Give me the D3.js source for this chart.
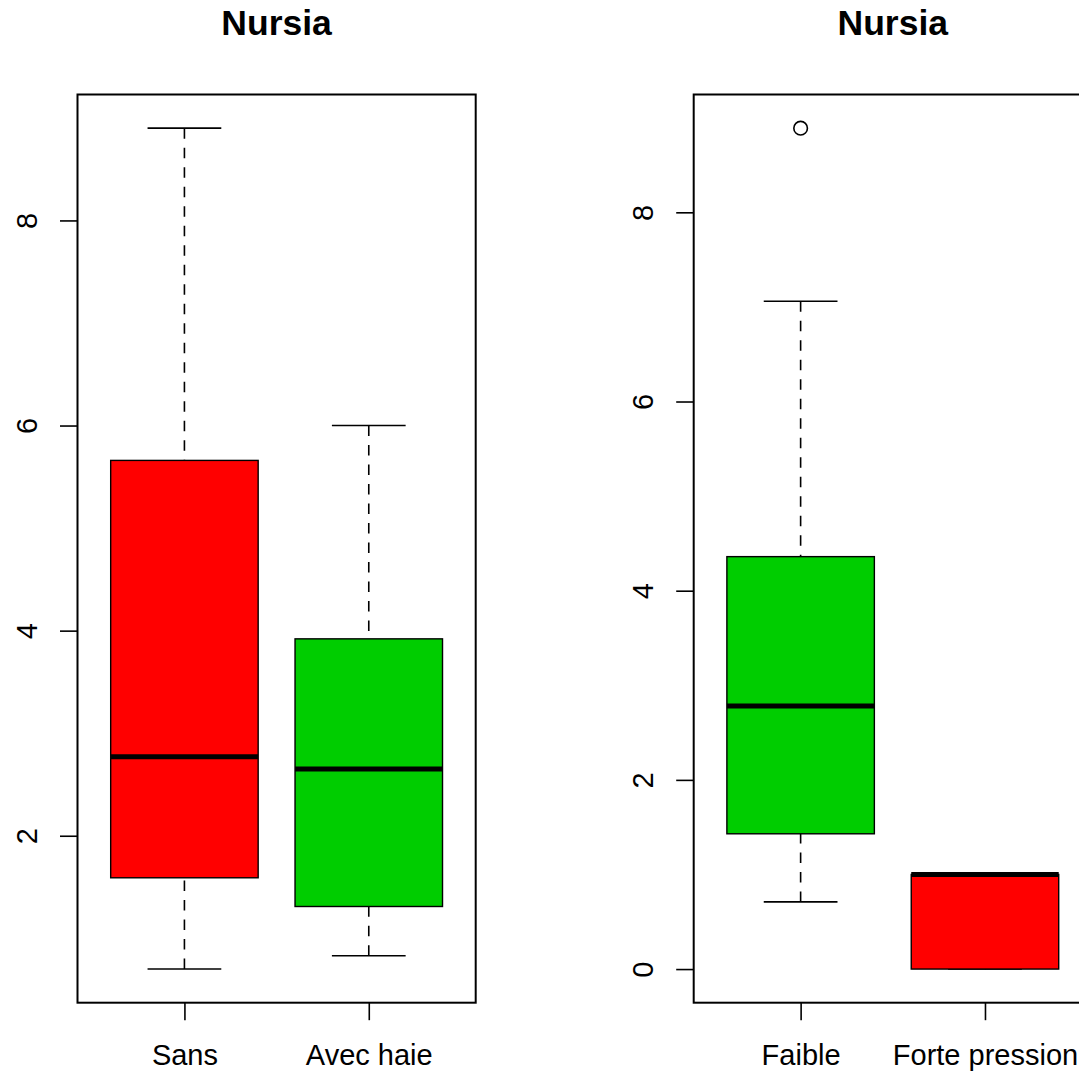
<!DOCTYPE html>
<html>
<head>
<meta charset="utf-8">
<script src="https://cdn.jsdelivr.net/npm/d3@7"></script>
<style>
  html, body { margin: 0; padding: 0; background: #fff; }
  svg { display: block; font-family: "Liberation Sans", Arial, sans-serif; }
</style>
</head>
<body>
<svg id="chart" width="1079" height="1072"></svg>
<script>
// ---- data ----
const titles = ["Nursia", "Nursia"];

const leftCategories = ["Sans", "Avec haie"];
const leftLower   = [0.70, 0.83];
const leftQ1      = [1.59, 1.31];
const leftMedian  = [2.77, 2.65];
const leftQ3      = [5.66, 3.92];
const leftUpper   = [8.90, 6.00];
const leftOutliers = [[], []];
const leftTicks   = [2, 4, 6, 8];

const rightCategories = ["Faible", "Forte pression"];
const rightLower   = [0.71, 0.00];
const rightQ1      = [1.43, 0.00];
const rightMedian  = [2.78, 1.00];
const rightQ3      = [4.36, 1.00];
const rightUpper   = [7.06, 1.00];
const rightOutliers = [[8.89], []];
const rightTicks   = [0, 2, 4, 6, 8];

// ---- styles ----
const leftColors  = ["#FF0000", "#00CD00"];
const rightColors = ["#00CD00", "#FF0000"];

const svg = d3.select("#chart");
const plotTop = 94.5, plotBottom = 1002.7, plotWidth = 398.2;
const labelSize = 29;

function panel(left, title, cats, lo, q1, med, q3, up, outs, ticks, colors) {
  const n = cats.length;
  // R-like ylim: range of all stats extended by 4%
  const allVals = lo.concat(up, q1, q3, med, outs.flat());
  const mn = d3.min(allVals), mx = d3.max(allVals);
  const ext = (mx - mn) * 0.04;
  const y = d3.scaleLinear().domain([mn - ext, mx + ext]).range([plotBottom, plotTop]);
  const xext = n * 0.04;
  const x = d3.scaleLinear().domain([0.5 - xext, n + 0.5 + xext]).range([left, left + plotWidth]);
  const boxHalf = (x(1.4) - x(1.0));
  const capHalf = boxHalf / 2;

  const g = svg.append("g");

  // title
  g.append("text")
    .attr("x", left + plotWidth / 2).attr("y", 35)
    .attr("text-anchor", "middle")
    .attr("font-weight", "bold").attr("font-size", 35.5)
    .text(title);

  cats.forEach((c, i) => {
    const cx = x(i + 1);
    const bg = g.append("g");
    // whiskers (dashed), drawn from whisker end towards the box
    bg.append("line").attr("x1", cx).attr("x2", cx)
      .attr("y1", y(up[i])).attr("y2", y(q3[i]))
      .attr("stroke", "#000").attr("stroke-width", 1.6).attr("stroke-dasharray", "10.5,9");
    bg.append("line").attr("x1", cx).attr("x2", cx)
      .attr("y1", y(lo[i])).attr("y2", y(q1[i]))
      .attr("stroke", "#000").attr("stroke-width", 1.6).attr("stroke-dasharray", "10.5,9");
    // caps
    [lo[i], up[i]].forEach(v => {
      bg.append("line").attr("x1", cx - capHalf).attr("x2", cx + capHalf)
        .attr("y1", y(v)).attr("y2", y(v))
        .attr("stroke", "#000").attr("stroke-width", 1.6);
    });
    // box
    bg.append("rect")
      .attr("x", cx - boxHalf).attr("width", 2 * boxHalf)
      .attr("y", y(q3[i])).attr("height", Math.max(0, y(q1[i]) - y(q3[i])))
      .attr("fill", colors[i]).attr("stroke", "#000").attr("stroke-width", 1.4);
    // median
    bg.append("line").attr("x1", cx - boxHalf).attr("x2", cx + boxHalf)
      .attr("y1", y(med[i])).attr("y2", y(med[i]))
      .attr("stroke", "#000").attr("stroke-width", 5);
    // outliers
    outs[i].forEach(v => {
      bg.append("circle").attr("cx", cx).attr("cy", y(v)).attr("r", 6.8)
        .attr("fill", "none").attr("stroke", "#000").attr("stroke-width", 1.6);
    });
  });

  // frame
  g.append("rect")
    .attr("x", left).attr("y", plotTop)
    .attr("width", plotWidth).attr("height", plotBottom - plotTop)
    .attr("fill", "none").attr("stroke", "#000").attr("stroke-width", 2);

  // y axis
  const ya = g.append("g").attr("transform", `translate(${left},0)`)
    .call(d3.axisLeft(y).tickValues(ticks).tickSize(17.5).tickFormat(d3.format("d")));
  ya.select(".domain").remove();
  ya.selectAll(".tick line").attr("stroke-width", 1.6);
  ya.selectAll(".tick text")
    .attr("transform", "rotate(-90)")
    .attr("x", 0).attr("y", -41).attr("dy", 0)
    .attr("text-anchor", "middle")
    .attr("font-size", labelSize).attr("font-family", "Liberation Sans, Arial, sans-serif");

  // x axis
  const xa = g.append("g").attr("transform", `translate(0,${plotBottom})`)
    .call(d3.axisBottom(x).tickValues(d3.range(1, n + 1)).tickSize(17.5)
      .tickFormat(d => cats[d - 1]));
  xa.select(".domain").remove();
  xa.selectAll(".tick line").attr("stroke-width", 1.6);
  xa.selectAll(".tick text")
    .attr("y", 62).attr("dy", 0)
    .attr("font-size", labelSize).attr("font-family", "Liberation Sans, Arial, sans-serif");
}

panel(77.5, titles[0], leftCategories, leftLower, leftQ1, leftMedian, leftQ3, leftUpper, leftOutliers, leftTicks, leftColors);
panel(693.7, titles[1], rightCategories, rightLower, rightQ1, rightMedian, rightQ3, rightUpper, rightOutliers, rightTicks, rightColors);
</script>
</body>
</html>
